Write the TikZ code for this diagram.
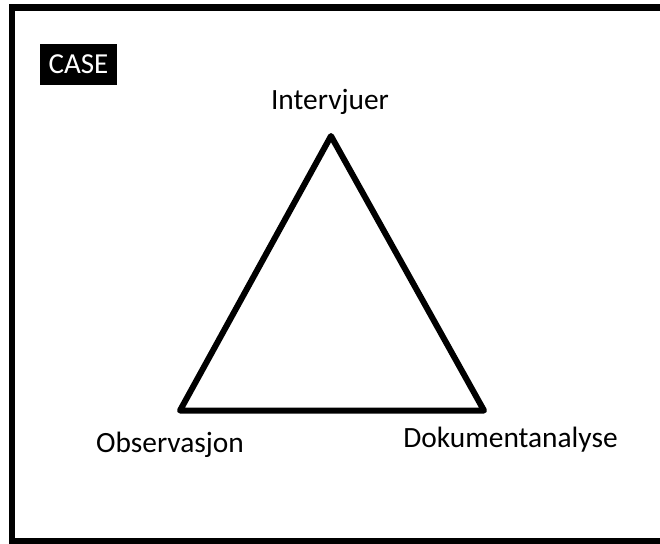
\documentclass[tikz,border=0pt]{standalone}
\usepackage{fontspec}
\setmainfont{Carlito}
\usetikzlibrary{calc}

\begin{document}
\begin{tikzpicture}[x=0.5pt,y=-0.5pt,
  lbl/.style={anchor=base,inner sep=0pt,font=\fontsize{14.7}{17}\selectfont},
  tag/.style={fill=black,text=white,inner sep=0pt,minimum width=38.5pt,minimum height=20.5pt,font=\fontsize{14.5}{17}\selectfont}]

\useasboundingbox (0,0) rectangle (660,543);

% frame
\draw[line width=3.3pt] (680,7.5) -- (12,7.5) -- (12,541) -- (680,541);

\node[tag] at (78.5,64.5) (case) {CASE};

\coordinate (top) at (331,136);
\coordinate (left) at (180,410.5);
\coordinate (right) at (484,410.5);

\node[lbl] at (330,109) (intv) {Intervjuer};
\node[lbl] at (170,452) (obs) {Observasjon};
\node[lbl] at (510.5,447) (dok) {Dokumentanalyse};

\draw[line width=3pt,line join=round] (top) -- (left) -- (right) -- cycle;

\end{tikzpicture}
\end{document}
